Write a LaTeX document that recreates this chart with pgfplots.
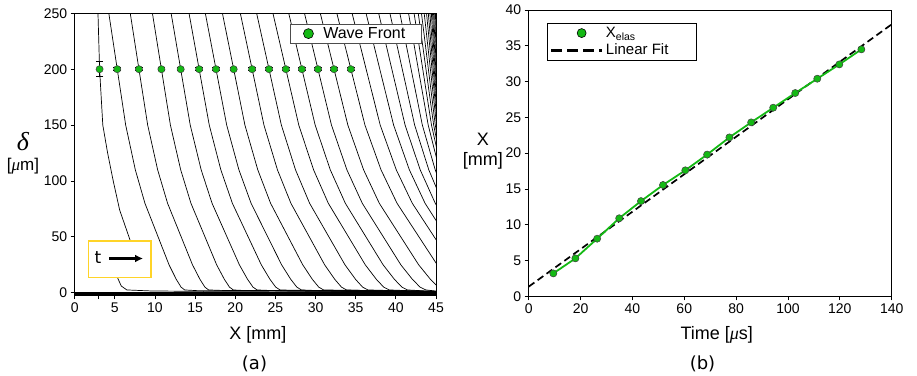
\documentclass[border=0pt]{standalone}
\usepackage{pgfplots}
\pgfplotsset{compat=1.18}
\usepackage{fontspec}
\setmainfont{Liberation Sans}
\newfontfamily\seriffont{Liberation Serif}
\newfontfamily\dejavu{DejaVu Sans}
\usetikzlibrary{arrows.meta}
\definecolor{mygreen}{RGB}{20,185,20}
\definecolor{myyellow}{RGB}{255,212,40}
\newcommand{\tickfont}{\fontsize{14}{14}\selectfont}
\newcommand{\labfont}{\fontsize{18}{20}\selectfont}

\begin{document}
\begin{tikzpicture}
\useasboundingbox (0,0) rectangle (917pt,375pt);
\pgfplotsset{
  base/.style={scale only axis, axis line style={line width=0.9pt},
    tick align=outside, major tick length=4pt, tick style={black, line width=0.8pt},
    ticklabel style={font=\tickfont}, /pgf/number format/assume math mode=true,
    xtick pos=bottom, ytick pos=left},
  wf/.style={black, line width=0.7pt, no markers, forget plot},
}
% ---------------- (a) ----------------
\begin{axis}[base, at={(74.7pt,79.8pt)}, anchor=south west,
  width=361.3pt, height=281.9pt,
  xmin=0, xmax=45, ymin=-2.2, ymax=250,
  xtick={0,5,...,45}, ytick={0,50,...,250},
  extra x ticks={2.9}, extra x tick labels={},
  xlabel={X [mm]}, xlabel style={font=\labfont, at={(axis description cs:0.507,-0.141)}, anchor=center},
  ylabel={{\seriffont\itshape\fontsize{26}{22}\selectfont δ}\\[6pt]{\fontsize{17}{17}\selectfont [{\seriffont\itshape μ}m]}},
  ylabel style={at={(axis description cs:-0.143,0.504)}, anchor=center, rotate=-90, align=center},
  legend style={at={(axis description cs:0.9604,0.962)}, anchor=north east, draw=black!70, line width=0.7pt,
    font=\fontsize{16}{18}\selectfont, inner xsep=2pt, inner ysep=1pt},
]
\addplot[wf] coordinates {(2.9,250) (3.0,225) (3.1,200) (3.3,175) (3.5,150) (4.1,125) (4.8,100) (5.6,74) (6.9,47) (6.3,30) (5.3,14) (5.8,6) (6.5,2.5) (9.5,1.6) (16,1.2) (27,1.5) (36,1.1) (45,0.8)};
\addplot[wf] coordinates {(4.25,250) (5.3,200) (6.35,150) (7.55,110) (8.75,80) (10.55,47) (11.75,25) (12.65,12) (13.25,5) (13.7,2.5) (15.2,1.9) (23.1,1.7) (34.0,1.4) (45,1.0)};
\addplot[wf] coordinates {(6.92,250) (8.0,200) (9.09,150) (10.33,110) (11.57,80) (13.43,47) (14.67,25) (15.6,12) (16.22,5) (16.68,2.5) (18.2,2.1) (25.2,1.9) (35.1,1.2) (45,0.9)};
\addplot[wf] coordinates {(9.68,250) (10.8,200) (11.92,150) (13.2,110) (14.48,80) (16.4,47) (17.68,25) (18.64,12) (19.28,5) (19.76,2.5) (21.3,1.9) (27.4,1.6) (35.2,1.8) (45,1.1)};
\addplot[wf] coordinates {(12.01,250) (13.2,200) (14.39,150) (15.75,110) (17.11,80) (19.15,47) (20.51,25) (21.53,12) (22.21,5) (22.72,2.5) (24.4,2.0) (29.4,1.7) (37.0,1.3) (45,1.0)};
\addplot[wf] coordinates {(14.24,250) (15.5,200) (16.76,150) (18.2,110) (19.64,80) (21.8,47) (23.24,25) (24.32,12) (25.04,5) (25.58,2.5) (27.3,2.2) (31.5,2.0) (37.9,1.5) (45,1.0)};
\addplot[wf] coordinates {(16.27,250) (17.6,200) (18.93,150) (20.45,110) (21.97,80) (24.25,47) (25.77,25) (26.91,12) (27.67,5) (28.24,2.5) (30.0,2.0) (33.2,1.8) (39.0,1.6) (45,1.1)};
\addplot[wf] coordinates {(18.4,250) (19.8,200) (21.2,150) (22.8,110) (24.4,80) (26.8,47) (28.4,25) (29.6,12) (30.4,5) (31.0,2.5) (32.8,2.3) (35.0,2.2) (39.5,1.7) (45,1.0)};
\addplot[wf] coordinates {(20.63,250) (22.1,200) (23.57,150) (25.25,110) (26.93,80) (29.45,47) (31.13,25) (32.39,12) (33.23,5) (33.86,2.5) (35.5,2.1) (37.2,1.9) (41.1,1.5) (45,1.0)};
\addplot[wf] coordinates {(22.66,250) (24.2,200) (25.74,150) (27.5,110) (29.26,80) (31.9,47) (33.66,25) (34.98,12) (35.86,5) (36.52,2.5) (39.1,2.0) (42.0,1.6) (45,1.2)};
\addplot[wf] coordinates {(24.69,250) (26.3,200) (27.91,150) (29.75,110) (31.59,80) (34.35,47) (36.19,25) (37.57,12) (38.49,5) (39.18,2.5) (41.0,2.0) (45,1.1)};
\addplot[wf] coordinates {(26.66,250) (28.3,200) (29.95,150) (31.83,110) (33.71,80) (36.53,47) (38.41,25) (39.82,12) (40.76,5) (41.46,2.5) (43.2,1.8) (45,1.2)};
\addplot[wf] coordinates {(28.62,250) (30.3,200) (31.98,150) (33.9,110) (35.82,80) (38.7,47) (40.62,25) (42.06,12) (43.02,5) (43.74,2.5) (45,1.5)};
\addplot[wf] coordinates {(30.59,250) (32.3,200) (34.02,150) (35.98,110) (37.94,80) (40.88,47) (42.84,25) (44.31,12) (45.29,5) (45.99,2.5)};
\addplot[wf] coordinates {(32.65,250) (34.4,200) (36.15,150) (38.15,110) (40.15,80) (43.15,47) (45.15,25) (46.65,12)};
\addplot[wf] coordinates {(34.55,250) (36.3,200) (38.05,150) (40.05,110) (42.05,80) (45.05,47) (47.05,25)};
\addplot[wf] coordinates {(36.29,250) (38.0,200) (39.72,150) (41.68,110) (43.64,80) (46.58,47)};
\addplot[wf] coordinates {(37.86,250) (39.5,200) (41.15,150) (43.03,110) (44.91,80) (47.73,47)};
\addplot[wf] coordinates {(39.26,250) (40.8,200) (42.34,150) (44.1,110) (45.86,80)};
\addplot[wf] coordinates {(40.5,250) (41.9,200) (43.3,150) (44.9,110) (46.5,80)};
\addplot[wf] coordinates {(41.58,250) (42.8,200) (44.03,150) (45.43,110)};
\addplot[wf] coordinates {(42.27,250) (43.35,200) (44.44,150) (45.68,110)};
\addplot[wf] coordinates {(42.79,250) (43.75,200) (44.71,150) (45.81,110)};
\addplot[wf] coordinates {(43.19,250) (44.05,200) (44.91,150) (45.89,110)};
\addplot[wf] coordinates {(43.53,250) (44.3,200) (45.07,150)};
\addplot[wf] coordinates {(43.82,250) (44.5,200) (45.18,150)};
\addplot[wf] coordinates {(44.04,250) (44.65,200) (45.26,150)};
\addplot[wf] coordinates {(44.24,250) (44.78,200) (45.32,150)};
\addplot[wf] coordinates {(44.42,250) (44.89,200) (45.36,150)};
\addplot[wf] coordinates {(44.56,250) (44.98,200) (45.4,150)};
\addplot[wf] coordinates {(44.69,250) (45.06,200)};
\addplot[wf] coordinates {(44.82,250) (45.13,200)};
\addplot[wf] coordinates {(44.92,250) (45.2,200)};
% dense bottom band
\addplot[black, line width=3.2pt, forget plot] coordinates {(0,-0.55) (45,-0.55)};
% wave front markers
\addplot[forget plot, only marks, mark=*, mark size=3.6pt,
  mark options={fill=mygreen, draw=black!75, line width=0.5pt}]
  coordinates {(3.1,200) (5.3,200) (8.0,200) (10.8,200) (13.2,200) (15.5,200) (17.6,200) (19.8,200) (22.1,200) (24.2,200) (26.3,200) (28.3,200) (30.3,200) (32.3,200) (34.4,200)};
\addplot[forget plot, draw=none, mark=none,
  error bars/.cd, y dir=both, y explicit,
  error bar style={draw=black, line width=0.9pt},
  error mark options={rotate=90, draw=black, mark size=3.8pt, line width=0.9pt}]
  coordinates {(3.1,200) +- (0,6.5) (5.3,200) +- (0,1.5) (8.0,200) +- (0,1.5) (10.8,200) +- (0,1.5) (13.2,200) +- (0,1.5) (15.5,200) +- (0,1.5) (17.6,200) +- (0,1.5) (19.8,200) +- (0,1.5) (22.1,200) +- (0,1.5) (24.2,200) +- (0,1.5) (26.3,200) +- (0,1.5) (28.3,200) +- (0,1.5) (30.3,200) +- (0,1.5) (32.3,200) +- (0,1.5) (34.4,200) +- (0,1.5)};
\addlegendimage{legend image code/.code={\path[draw=none, fill=none] (0cm,0cm) -- (1.0cm,0cm);
  \node[circle, fill=mygreen, draw=black, line width=0.6pt, inner sep=0pt, minimum size=10pt] at (0.55cm,0cm) {};}}
\addlegendentry{Wave Front\kern12pt}
\end{axis}
% ---------------- (b) ----------------
\begin{axis}[base, at={(528.7pt,78.7pt)}, anchor=south west,
  width=363pt, height=286.3pt,
  xmin=0, xmax=140, ymin=0, ymax=40,
  xtick={0,20,...,140}, ytick={0,5,...,40},
  xlabel={Time [{\seriffont\itshape μ}s]}, xlabel style={font=\labfont, at={(axis description cs:0.518,-0.135)}, anchor=center},
  ylabel={X\\{}[mm]}, ylabel style={font=\labfont, at={(axis description cs:-0.126,0.5075)}, anchor=center, rotate=-90, align=center},
  legend style={at={(axis description cs:0.0512,0.9556)}, anchor=north west, draw=black, line width=0.9pt,
    font=\fontsize{15}{17}\selectfont, inner xsep=2pt, inner ysep=2pt, row sep=1pt},
  legend cell align=left,
]
\addplot[forget plot, black, line width=1.7pt, dash pattern=on 7pt off 4pt] coordinates {(0,1.35) (140,38.0)};
\addplot[forget plot, mygreen, line width=1.8pt] coordinates {(9.5,3.2) (18.0,5.3) (26.4,8.05) (34.9,10.9) (43.3,13.3) (51.8,15.55) (60.4,17.6) (68.8,19.8) (77.4,22.2) (85.8,24.3) (94.3,26.35) (102.8,28.4) (111.3,30.4) (119.8,32.4) (128.3,34.5)};
\addplot[forget plot, only marks, mark=*, mark size=3.6pt,
  mark options={fill=mygreen, draw=black!75, line width=0.5pt}]
  coordinates {(9.5,3.2) (18.0,5.3) (26.4,8.05) (34.9,10.9) (43.3,13.3) (51.8,15.55) (60.4,17.6) (68.8,19.8) (77.4,22.2) (85.8,24.3) (94.3,26.35) (102.8,28.4) (111.3,30.4) (119.8,32.4) (128.3,34.5)};
\addlegendimage{legend image code/.code={\path[draw=none, fill=none] (0cm,0cm) -- (1.8cm,0cm);
  \node[circle, fill=mygreen, draw=black, line width=0.6pt, inner sep=0pt, minimum size=9pt] at (0.9cm,0cm) {};}}
\addlegendentry{X\textsubscript{elas}}
\addlegendimage{legend image code/.code={\draw[black, line width=3pt, dash pattern=on 11pt off 5pt] (0cm,0cm) -- (1.8cm,0cm);}}
\addlegendentry{Linear Fit\kern24pt}
\end{axis}
% annotations
\draw[myyellow, line width=1.3pt, fill=white] (88.3pt,97.7pt) rectangle (151pt,134pt);
\node[font=\dejavu\fontsize{17}{17}\selectfont] at (98pt,117pt) {t};
\draw[-{Latex[length=8pt,width=8pt]}, line width=2.8pt] (109pt,116.5pt) -- (143pt,116.5pt);
\node[font=\dejavu\fontsize{18}{18}\selectfont] at (254.5pt,11pt) {(a)};
\node[font=\dejavu\fontsize{18}{18}\selectfont] at (702.5pt,11pt) {(b)};
\end{tikzpicture}
\end{document}
